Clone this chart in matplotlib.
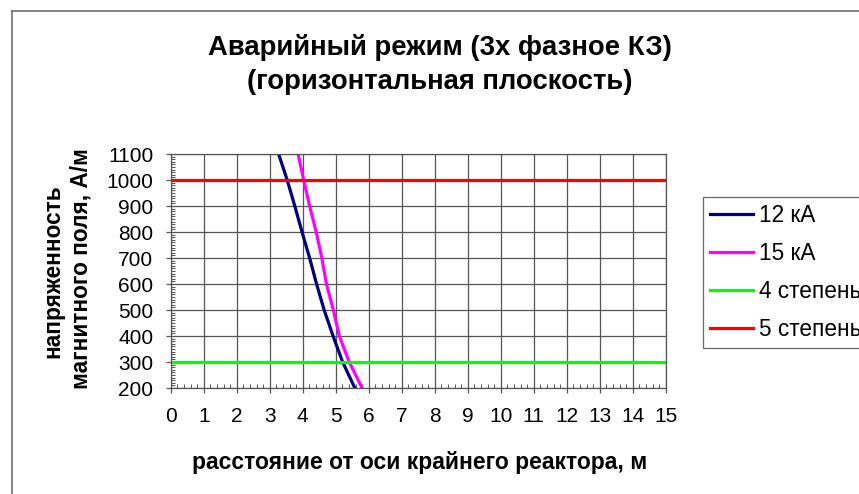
import matplotlib
matplotlib.use("Agg")
import matplotlib.pyplot as plt
from matplotlib.ticker import MultipleLocator
from matplotlib.lines import Line2D

plt.rcParams['font.family'] = ['Liberation Sans', 'DejaVu Sans']

# Data
y_levels = [1100, 1000, 900, 800, 700, 600, 500, 400, 300, 200]
x_12kA = [3.27, 3.53, 3.76, 3.98, 4.21, 4.42, 4.65, 4.92, 5.21, 5.58]
x_15kA = [3.86, 4.03, 4.21, 4.41, 4.58, 4.72, 4.93, 5.11, 5.41, 5.80]
limit_x = [0, 15]
limit_4 = [300, 300]
limit_5 = [1000, 1000]
labels = ['12 кА', '15 кА', '4 степень', '5 степень']
colors = ['#000080', '#FF00FF', '#00FF00', '#FF0000']
title_lines = ['Аварийный режим (3х фазное КЗ)', '(горизонтальная плоскость)']
xlabel = 'расстояние от оси крайнего реактора, м'
ylabel_lines = ['напряженность', 'магнитного поля, А/м']

W, H = 859, 494
fig = plt.figure(figsize=(W / 100, H / 100), dpi=100)
ax = fig.add_axes([170.7 / W, 1 - 388 / H, 495 / W, 234 / H])

lw = 2.3
h1, = ax.plot(x_12kA, y_levels, color=colors[0], lw=lw, label=labels[0])
h2, = ax.plot(x_15kA, y_levels, color=colors[1], lw=lw, label=labels[1])
h3, = ax.plot(limit_x, limit_4, color=colors[2], lw=lw, label=labels[2])
h4, = ax.plot(limit_x, limit_5, color=colors[3], lw=lw, label=labels[3])

ax.set_xlim(0, 15)
ax.set_ylim(200, 1100)
ax.xaxis.set_major_locator(MultipleLocator(1))
ax.xaxis.set_minor_locator(MultipleLocator(0.2))
ax.yaxis.set_major_locator(MultipleLocator(100))
ax.yaxis.set_minor_locator(MultipleLocator(10))
gcol = '#555555'
ax.grid(True, which='major', color=gcol, lw=0.9)
ax.set_axisbelow(True)
for s in ax.spines.values():
    s.set_color(gcol)
    s.set_linewidth(0.9)
ax.tick_params(which='major', direction='out', length=3.6, width=0.9, color=gcol,
               labelsize=15)
ax.tick_params(which='minor', direction='in', length=3, width=0.7, color=gcol)
ax.tick_params(axis='x', which='major', pad=10)
ax.tick_params(axis='y', which='major', pad=9)

fig.text(440 / W, 1 - 55 / H, title_lines[0], ha='center', va='baseline',
         fontsize=19.8, fontweight='bold')
fig.text(440 / W, 1 - 89 / H, title_lines[1], ha='center', va='baseline',
         fontsize=19.8, fontweight='bold')
fig.text(420 / W, 1 - 469 / H, xlabel, ha='center', va='baseline',
         fontsize=16.5, fontweight='bold')
fig.text(53 / W, 1 - 271 / H, ylabel_lines[0], ha='center', va='center', rotation=90,
         fontsize=16.3, fontweight='bold')
fig.text(81 / W, 1 - 269 / H, ylabel_lines[1], ha='center', va='center', rotation=90,
         fontsize=16.3, fontweight='bold')

leg = fig.legend(handles=[h1, h2, h3, h4], loc='upper left',
                 bbox_to_anchor=(703 / W, 1 - 197 / H), frameon=True,
                 fancybox=False, edgecolor='#444444', fontsize=16.3,
                 handlelength=1.9, handletextpad=0.27, labelspacing=0.66,
                 borderpad=0.32, borderaxespad=0)
leg.get_frame().set_linewidth(0.9)

# outer chart border
bc = '#707070'
fig.add_artist(Line2D([12.3 / W, 12.3 / W], [0, 1 - 10.7 / H], color=bc, lw=1.2,
                      transform=fig.transFigure))
fig.add_artist(Line2D([12.3 / W, 1], [1 - 10.7 / H, 1 - 10.7 / H], color=bc, lw=1.2,
                      transform=fig.transFigure))

fig.savefig('out.png', dpi=100)
